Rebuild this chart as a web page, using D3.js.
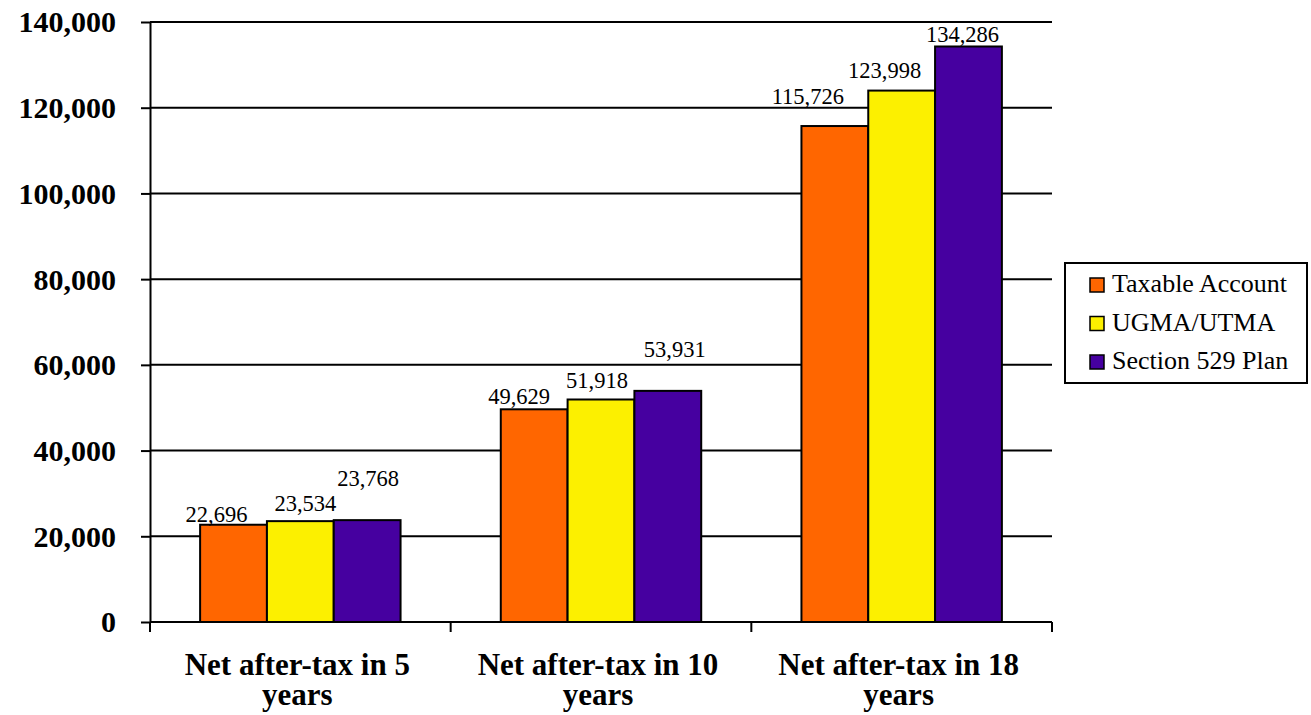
<!DOCTYPE html>
<html>
<head>
<meta charset="utf-8">
<script src="https://cdn.jsdelivr.net/npm/d3@7"></script>
<style>
  html, body { margin: 0; padding: 0; background: #fff; }
  svg { display: block; }
  svg text { font-family: "Liberation Serif", serif; fill: #000; }
</style>
</head>
<body>
<svg id="chart" width="1311" height="715"></svg>
<script>
// ---- data ----
const categories = [["Net after-tax in 5", "years"], ["Net after-tax in 10", "years"], ["Net after-tax in 18", "years"]];
const seriesNames = ["Taxable Account", "UGMA/UTMA", "Section 529 Plan"];
const taxableAccount = [22696, 49629, 115726];
const ugmaUtma = [23534, 51918, 123998];
const section529 = [23768, 53931, 134286];
const yTicks = [0, 20000, 40000, 60000, 80000, 100000, 120000, 140000];

// ---- styling / layout (not data) ----
const colors = ["#FF6600", "#FCF000", "#4600A0"];
// label nudges mimicking the reference's label placement
const labelLift = [[3, 10, 34], [5, 11, 34], [22, 13, 4]];
const labelShift = [[-17, 5, 1], [-15, -4, 7], [-27, -17, -6]];

const seriesValues = [taxableAccount, ugmaUtma, section529];
const svg = d3.select("#chart");
const m = { left: 150, right: 1052, top: 22, bottom: 622 };

const x0 = d3.scaleBand().domain(d3.range(categories.length)).range([m.left, m.right]).paddingInner(0).paddingOuter(0);
const bw = x0.bandwidth();
const gap = bw * 0.75 / 4.5;
const x1 = d3.scaleBand().domain(d3.range(seriesNames.length)).range([gap, bw - gap]).padding(0);
const y = d3.scaleLinear().domain([0, 140000]).range([m.bottom, m.top]);

const fmt = d3.format(",");

// gridlines
svg.append("g")
  .selectAll("line")
  .data(yTicks.filter(d => d > 0))
  .join("line")
  .attr("x1", m.left).attr("x2", m.right)
  .attr("y1", d => y(d)).attr("y2", d => y(d))
  .attr("stroke", "#000").attr("stroke-width", 2);

// y axis
const yAxis = d3.axisLeft(y).tickValues(yTicks).tickFormat(fmt).tickSize(9).tickSizeOuter(0).tickPadding(25);
const gy = svg.append("g").attr("transform", `translate(${m.left},0)`).call(yAxis);
gy.attr("font-family", null).attr("font-size", null);
gy.select(".domain").attr("stroke", "#000").attr("stroke-width", 2);
gy.selectAll(".tick line").attr("stroke", "#000").attr("stroke-width", 2);
gy.selectAll(".tick text")
  .style("font-family", "'Liberation Serif', serif")
  .style("font-weight", "bold").style("font-size", "30px")
  .attr("fill", "#000")
  .attr("dy", "0.33em");

// bars
const groups = svg.append("g").selectAll("g")
  .data(categories.map((c, i) => i))
  .join("g")
  .attr("transform", i => `translate(${x0(i)},0)`);

groups.selectAll("rect")
  .data(i => seriesValues.map((s, j) => ({ i, j, v: s[i] })))
  .join("rect")
  .attr("x", d => x1(d.j))
  .attr("width", x1.bandwidth())
  .attr("y", d => y(d.v))
  .attr("height", d => y(0) - y(d.v))
  .attr("fill", d => colors[d.j])
  .attr("stroke", "#000").attr("stroke-width", 2);

groups.selectAll("text")
  .data(i => seriesValues.map((s, j) => ({ i, j, v: s[i] })))
  .join("text")
  .attr("x", d => x1(d.j) + x1.bandwidth() / 2 + labelShift[d.i][d.j])
  .attr("y", d => y(d.v) - labelLift[d.i][d.j])
  .attr("text-anchor", "middle")
  .style("font-family", "'Liberation Serif', serif")
  .style("font-size", "22.5px")
  .text(d => fmt(d.v));

// x axis
const xAxisScale = d3.scaleLinear().domain([0, categories.length]).range([m.left, m.right]);
const gx = svg.append("g").attr("transform", `translate(0,${m.bottom})`);
gx.append("line").attr("x1", m.left).attr("x2", m.right).attr("y1", 0).attr("y2", 0)
  .attr("stroke", "#000").attr("stroke-width", 2);
gx.selectAll("line.tk")
  .data(d3.range(categories.length + 1))
  .join("line").attr("class", "tk")
  .attr("x1", d => xAxisScale(d)).attr("x2", d => xAxisScale(d))
  .attr("y1", 0).attr("y2", 10)
  .attr("stroke", "#000").attr("stroke-width", 2);

const catText = gx.selectAll("text.cat")
  .data(categories.map((c, i) => ({ c, i })))
  .join("text").attr("class", "cat")
  .attr("text-anchor", "middle")
  .style("font-family", "'Liberation Serif', serif")
  .style("font-weight", "bold").style("font-size", "31px");
catText.each(function (d) {
  const t = d3.select(this);
  d.c.forEach((line, k) => {
    t.append("tspan")
      .attr("x", x0(d.i) + bw / 2 - 3)
      .attr("y", 53 + k * 30)
      .text(line);
  });
});

// legend
const lg = svg.append("g").attr("transform", "translate(1065,263)");
lg.append("rect").attr("x", 0).attr("y", 0).attr("width", 242).attr("height", 120)
  .attr("fill", "#fff").attr("stroke", "#000").attr("stroke-width", 2);
const items = lg.selectAll("g.item")
  .data(seriesNames.map((n, j) => ({ n, j })))
  .join("g").attr("class", "item")
  .attr("transform", d => `translate(0,${15 + d.j * 38.5})`);
items.append("rect")
  .attr("x", 25).attr("y", 0).attr("width", 14).attr("height", 14)
  .attr("fill", d => colors[d.j]).attr("stroke", "#000").attr("stroke-width", 1.5);
items.append("text")
  .attr("x", 47).attr("y", 14)
  .style("font-family", "'Liberation Serif', serif")
  .style("font-size", "26px")
  .text(d => d.n);
</script>
</body>
</html>
